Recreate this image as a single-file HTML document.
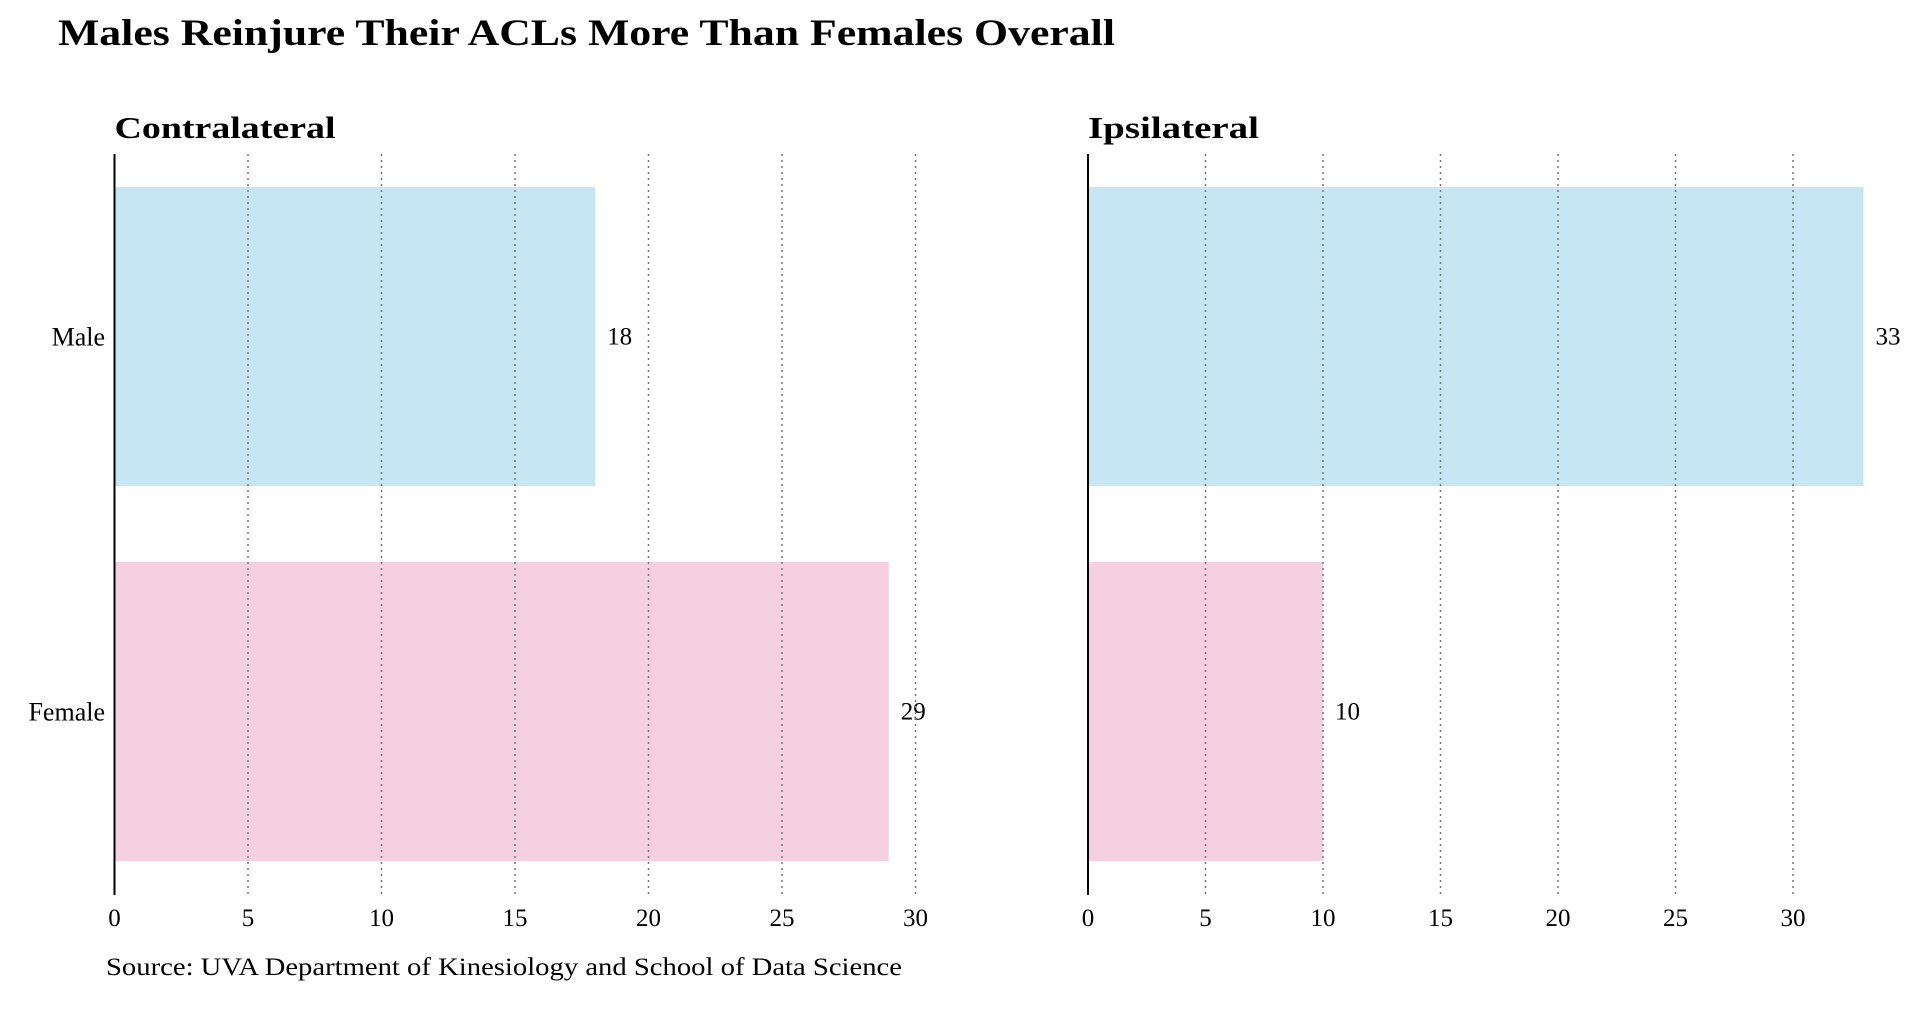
<!DOCTYPE html>
<html><head><meta charset="utf-8"><style>
html,body{margin:0;padding:0;background:#fff;}
svg{display:block;font-family:"Liberation Serif",serif;}
</style></head><body>
<svg id="chart" width="1921" height="1033" viewBox="0 0 1921 1033">
<text x="58" y="45" font-size="37" font-weight="bold" textLength="1057" lengthAdjust="spacingAndGlyphs">Males Reinjure Their ACLs More Than Females Overall</text>
<text x="106" y="975" font-size="25" textLength="796" lengthAdjust="spacingAndGlyphs">Source: UVA Department of Kinesiology and School of Data Science</text>
<g id="panels"></g>
</svg>
<script>
const categories = ["Male", "Female"];
const contralateralValues = [18, 29];
const ipsilateralValues = [33, 10];
const tickValues = [0, 5, 10, 15, 20, 25, 30];
const panelTitles = ["Contralateral", "Ipsilateral"];
const colors = ["#c7e6f3", "#f5d1e0"];
const NS = "http://www.w3.org/2000/svg";
const root = document.getElementById("panels");
function mk(tag, attrs, parent){const e=document.createElementNS(NS,tag);for(const k in attrs)e.setAttribute(k,attrs[k]);parent.appendChild(e);return e;}
const panels = [
  {x0:114.5, perUnit:26.7, values:contralateralValues, title:panelTitles[0], tw:221, showCats:true},
  {x0:1088, perUnit:23.5, values:ipsilateralValues, title:panelTitles[1], tw:171, showCats:false}
];
const yTop=154, yBot=895;
const barTops=[187,562], barH=299;
panels.forEach((p,pi)=>{
  const g=mk("g",{},root);
  
  
  const xs=v=>p.x0+v*p.perUnit;
  const t=mk("text",{x:p.x0,y:138,"font-size":31,"font-weight":"bold",textLength:p.tw,lengthAdjust:"spacingAndGlyphs"},g);
  t.textContent=p.title;
  
  
  p.values.forEach((v,i)=>{
    const r=mk("rect",{x:p.x0,y:barTops[i],width:xs(v)-p.x0,height:barH,fill:colors[i]},g);
    
    
    const vl=mk("text",{x:xs(v)+12,y:barTops[i]+barH/2+8,"font-size":25},g);
    vl.textContent=v;
    
    
    if(p.showCats){
      const cl=mk("text",{x:105,y:barTops[i]+barH/2+9,"font-size":26,"text-anchor":"end"},g);
      cl.textContent=categories[i];
      
      
    }
  });
  tickValues.forEach(v=>{
    if(v>0){
      const l=mk("line",{x1:xs(v),x2:xs(v),y1:yTop,y2:yBot,stroke:"#777","stroke-width":1.5,"stroke-dasharray":"2,4"},g);
      
      
    }
    const tl=mk("text",{x:xs(v),y:926,"font-size":25,"text-anchor":"middle"},g);
    tl.textContent=v;
    
    
  });
  const ax=mk("line",{x1:p.x0,x2:p.x0,y1:yTop,y2:yBot,stroke:"#000","stroke-width":2},g);
  
  
});
</script>
</body></html>
